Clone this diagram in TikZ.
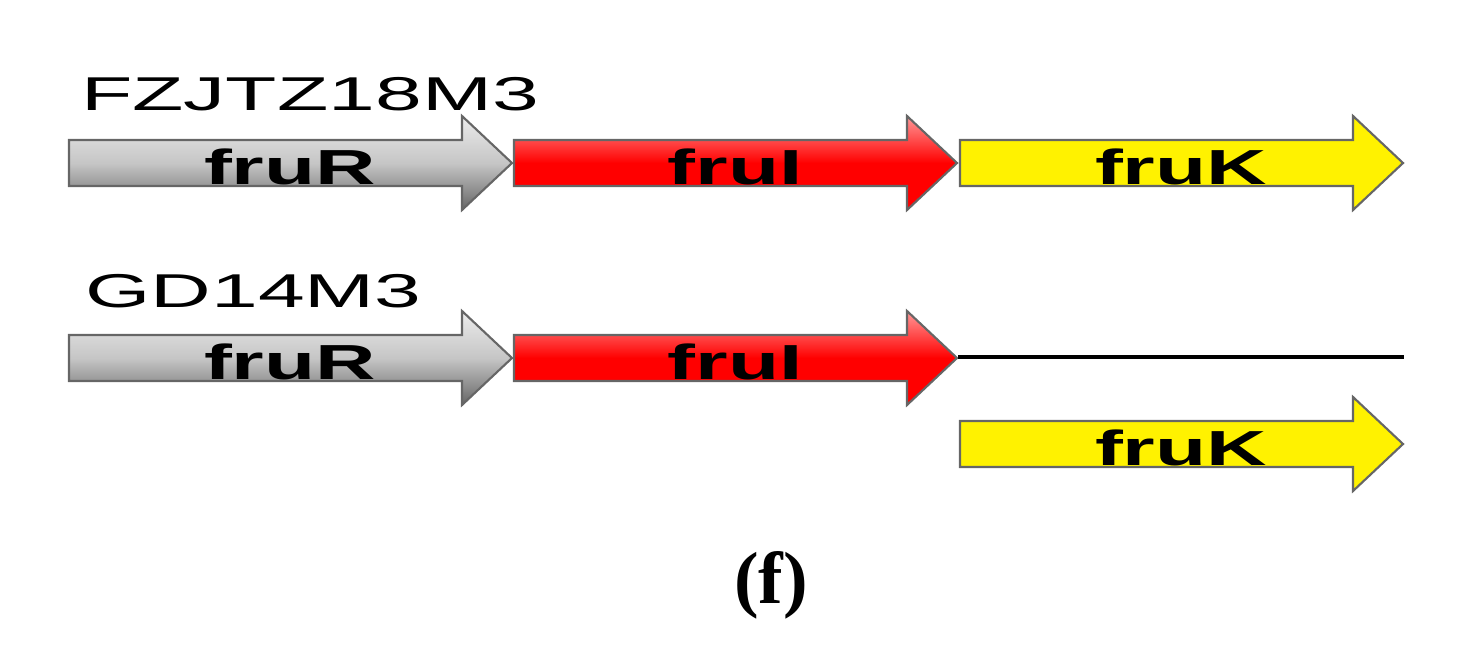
\documentclass[tikz,border=0pt]{standalone}
\usepackage{fontspec}
\setmainfont{Liberation Sans}
\newfontfamily\capfont{Liberation Serif}
\usetikzlibrary{positioning}

% one gene arrow: #1 style, #2 name, #3 left x, #4 centre y, #5 label
\newcommand{\genearrow}[5]{%
  \path[#1] (#3,#4-23) -- (#3+393,#4-23) -- (#3+393,#4-47) -- (#3+443,#4)
    -- (#3+393,#4+47) -- (#3+393,#4+23) -- (#3,#4+23) -- cycle;
  \node[genelabel] (#2) at (#3+221,#4+4) {#5};
}

\begin{document}
\begin{tikzpicture}[x=0.01cm, y=-0.01cm]
\tikzstyle{grey gene} = [draw=black!60, line width=0.6pt, top color=white!85!gray, bottom color=gray!80!black, middle color=gray!45]
\tikzstyle{red gene} = [draw=black!60, line width=0.6pt, top color=red!40, bottom color=red, middle color=red]
\tikzstyle{yellow gene} = [draw=black!60, line width=0.6pt, fill=yellow]
\tikzstyle{genelabel} = [font=\fontsize{14pt}{14pt}\selectfont\bfseries, inner sep=0pt, xscale=1.7]
\tikzstyle{strain} = [font=\fontsize{13.5pt}{14pt}\selectfont, inner sep=0pt, anchor=base west, xscale=1.77]

\useasboundingbox (0,0) rectangle (1474,654);

% first strain
\node[strain] (s1) at (80,110) {FZJTZ18M3};
\genearrow{grey gene}{r1}{69}{163}{fruR}
\genearrow{red gene}{i1}{514}{163}{fruI}
\genearrow{yellow gene}{k1}{960}{163}{fruK}

% second strain
\node[strain] (s2) at (84,307) {GD14M3};
\genearrow{grey gene}{r2}{69}{358}{fruR}
\genearrow{red gene}{i2}{514}{358}{fruI}
\coordinate (e2) at (958,357);
\coordinate (t2) at (1404,357);
\draw[line width=0.9pt] (e2) -- (t2);
\genearrow{yellow gene}{k2}{960}{444}{fruK}

\node[font=\capfont\fontsize{21pt}{22pt}\selectfont\bfseries] (cap) at (771,585) {(f)};
\end{tikzpicture}
\end{document}
